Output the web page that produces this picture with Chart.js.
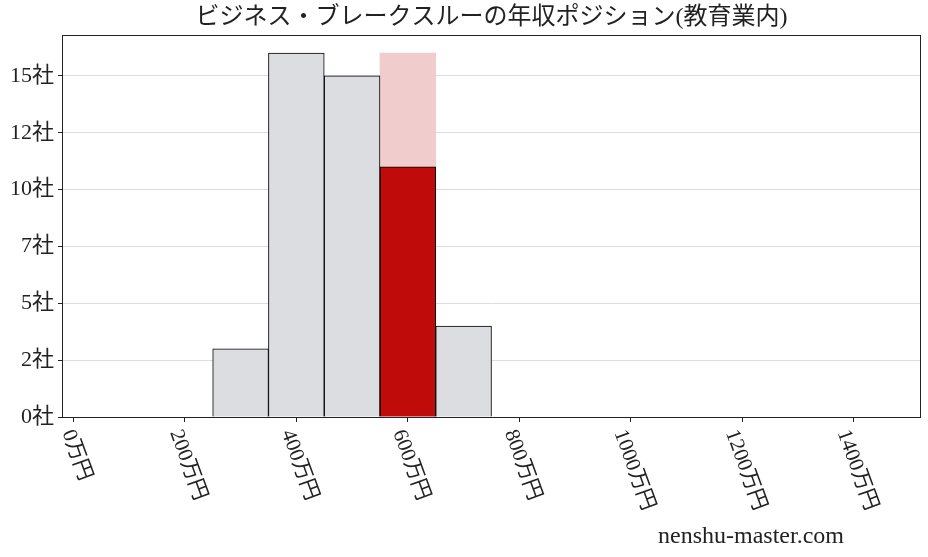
<!DOCTYPE html>
<html><head><meta charset="utf-8">
<script src="https://cdn.jsdelivr.net/npm/chart.js@4"></script>
<style>html,body{margin:0;padding:0;background:#fff}#wrap{width:928px;height:557px}</style>
</head><body><div id="wrap"><canvas id="c" width="928" height="557"></canvas></div>
<script>
const titleText = 'ビジネス・ブレークスルーの年収ポジション(教育業内)';
const binCenters = [300, 400, 500, 600, 700];
const binCounts = [3, 16, 15, 11, 4];
const highlightBin = [600];
const highlightTotal = [16];
const xTickValues = [0, 200, 400, 600, 800, 1000, 1200, 1400];
const yTickValues = [0, 2.5, 5, 7.5, 10, 12.5, 15];
const xUnit = '万円';
const yUnit = '社';
const watermark = 'nenshu-master.com';

const FONT = "'Liberation Serif','Noto Sans CJK JP',serif";
const INK = '#222222';

const framePlugin = {
  id: 'framePlugin',
  afterDraw(chart) {
    const ctx = chart.ctx;
    const a = chart.chartArea;
    ctx.save();
    ctx.strokeStyle = INK;
    ctx.lineWidth = 1;
    ctx.strokeRect(Math.round(a.left) - 0.5, Math.round(a.top) + 0.5, Math.round(a.right - a.left) + 1, Math.round(a.bottom - a.top));
    // rotated x tick labels
    const xs = chart.scales.x;
    ctx.fillStyle = INK;
    ctx.font = '21px ' + FONT;
    const th = 70 * Math.PI / 180;
    xTickValues.forEach(v => {
      const label = v + xUnit;
      const w = ctx.measureText(label).width;
      const h = 21;
      const bh = w * Math.sin(th) + h * Math.cos(th);
      const px = xs.getPixelForValue(v);
      ctx.save();
      ctx.translate(px + 3, a.bottom + 10 + bh / 2);
      ctx.rotate(th);
      ctx.textAlign = 'center';
      ctx.textBaseline = 'middle';
      ctx.fillText(label, 0, 0);
      ctx.restore();
    });
    // title
    ctx.font = '24px ' + FONT;
    ctx.textAlign = 'center';
    ctx.textBaseline = 'middle';
    ctx.fillText(titleText, (a.left + a.right) / 2, 18);
    // watermark
    ctx.font = '24px ' + FONT;
    ctx.textAlign = 'center';
    ctx.textBaseline = 'alphabetic';
    ctx.fillText(watermark, 751, 543);
    ctx.restore();
  }
};

const mainColors = binCenters.map(c => highlightBin.includes(c) ? '#c00b0b' : '#dcdde0');

new Chart(document.getElementById('c'), {
  type: 'bar',
  data: {
    datasets: [
      {
        label: 'main',
        data: binCenters.map((c, i) => ({ x: c, y: binCounts[i] })),
        backgroundColor: mainColors,
        borderColor: '#000000',
        borderWidth: 1,
        borderSkipped: 'bottom',
        grouped: false,
        barPercentage: 1,
        categoryPercentage: 1,
        order: 1
      },
      {
        label: 'total',
        data: highlightBin.map((c, i) => ({ x: c, y: highlightTotal[i] })),
        backgroundColor: '#f0cccc',
        borderWidth: 0,
        grouped: false,
        barPercentage: 1,
        categoryPercentage: 1,
        order: 2
      }
    ]
  },
  options: {
    responsive: false,
    animation: false,
    devicePixelRatio: 1,
    layout: { padding: { left: 0, top: 35, right: 8, bottom: 0 } },
    plugins: { legend: { display: false }, tooltip: { enabled: false }, title: { display: false } },
    scales: {
      x: {
        type: 'linear',
        offset: false,
        min: -18.5,
        max: 1518.5,
        afterBuildTicks: s => { s.ticks = xTickValues.map(v => ({ value: v })); },
        afterFit: s => { s.height = 140; },
        ticks: { display: false },
        grid: { drawOnChartArea: false, drawTicks: true, tickLength: 5, tickColor: INK, offset: false },
        border: { display: false }
      },
      y: {
        min: 0,
        max: 16.8,
        afterBuildTicks: s => { s.ticks = yTickValues.map(v => ({ value: v })); },
        afterFit: s => { s.width = 63; },
        ticks: {
          color: INK,
          font: { family: FONT, size: 22 },
          padding: 4,
          callback: v => Math.floor(v) + yUnit
        },
        grid: { color: '#dcdcdc', lineWidth: 1, drawTicks: true, tickLength: 5, tickColor: INK },
        border: { display: false }
      }
    }
  },
  plugins: [framePlugin]
});
</script>
</body></html>
